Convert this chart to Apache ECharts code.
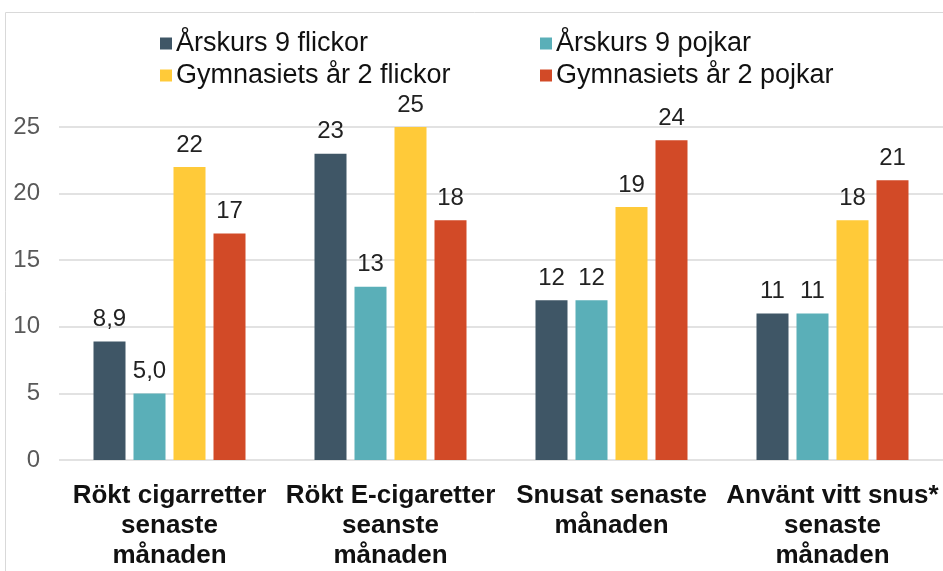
<!DOCTYPE html>
<html>
<head>
<meta charset="utf-8">
<script src="https://cdn.jsdelivr.net/npm/echarts@6/dist/echarts.min.js"></script>
<style>
html, body { margin: 0; padding: 0; background: #fff; }
#chart { width: 943px; height: 571px; }
</style>
</head>
<body>
<div id="chart"></div>
<script>
// kategorier och värden
var categories = [
    'Rökt cigarretter\nsenaste\nmånaden',
    'Rökt E-cigaretter\nseanste\nmånaden',
    'Snusat senaste\nmånaden',
    'Använt vitt snus*\nsenaste\nmånaden'
];
var seriesNames = ['Årskurs 9 flickor', 'Årskurs 9 pojkar', 'Gymnasiets år 2 flickor', 'Gymnasiets år 2 pojkar'];
var ak9Flickor = [8.9, 23, 12, 11];
var ak9Pojkar = [5.0, 13, 12, 11];
var gy2Flickor = [22, 25, 19, 18];
var gy2Pojkar = [17, 18, 24, 21];
var yTicks = [0, 5, 10, 15, 20, 25];

var colors = ['#3F5666', '#5AAFB8', '#FFCA39', '#D24A27'];
var values = [ak9Flickor, ak9Pojkar, gy2Flickor, gy2Pojkar];

var myChart = echarts.init(document.getElementById('chart'));

var legendPos = [[155, 25], [535, 25], [155, 57], [535, 57]];
var legends = seriesNames.map(function (name, i) {
    return {
        data: [name],
        left: legendPos[i][0],
        top: legendPos[i][1],
        itemWidth: 12,
        itemHeight: 12,
        itemGap: 0,
        icon: 'rect',
        textStyle: { fontFamily: 'Liberation Sans', fontSize: 27, color: '#111', padding: [0, 0, 0, -1] }
    };
});

var series = seriesNames.map(function (name, i) {
    return {
        name: name,
        type: 'bar',
        barWidth: 32,
        barGap: '25%',
        itemStyle: { color: colors[i] },
        label: {
            show: true,
            position: 'top',
            distance: 10,
            fontFamily: 'Liberation Sans',
            fontSize: 24,
            color: '#222',
            formatter: function (p) {
                // under 10 visas med en decimal
                var s = p.value < 10 ? p.value.toFixed(1) : String(p.value);
                return s.replace('.', ',');
            }
        },
        data: values[i]
    };
});

var option = {
    animation: false,
    color: colors,
    legend: legends,
    graphic: [{
        type: 'polyline',
        shape: { points: [[5.5, 571], [5.5, 12.5], [943, 12.5]] },
        style: { stroke: '#d9d9d9', lineWidth: 1, fill: null },
        silent: true
    }],
    grid: { left: 59, top: 127, width: 888, height: 335 },
    xAxis: {
        type: 'category',
        data: categories,
        axisTick: { show: false },
        axisLine: { show: false },
        axisLabel: {
            interval: 0,
            margin: 21,
            fontFamily: 'Liberation Sans',
            fontWeight: 'bold',
            fontSize: 26,
            lineHeight: 30,
            color: '#111',
            verticalAlign: 'top'
        }
    },
    yAxis: {
        type: 'value',
        min: yTicks[0],
        max: yTicks[yTicks.length - 1],
        interval: 5,
        axisLine: { show: false },
        axisTick: { show: false },
        splitLine: { lineStyle: { color: '#d9d9d9', width: 1.5 } },
        axisLabel: {
            margin: 19,
            fontFamily: 'Liberation Sans',
            fontSize: 24,
            color: '#595959'
        }
    },
    series: series
};

myChart.setOption(option);
</script>
</body>
</html>
